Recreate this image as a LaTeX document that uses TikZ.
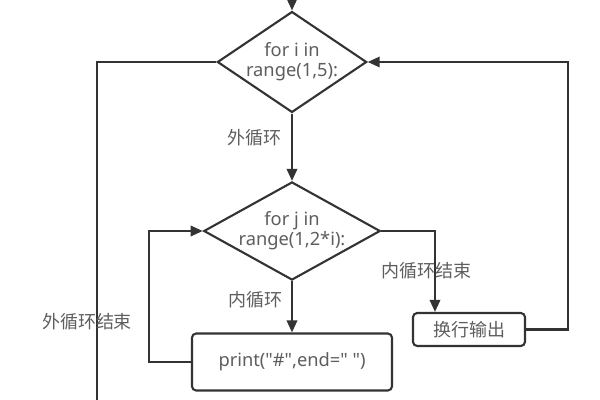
\documentclass[tikz,border=0pt]{standalone}
\usepackage{fontspec}
\setmainfont{Noto Sans}
\newfontfamily\cjk{Noto Sans CJK SC}
\usetikzlibrary{shapes.geometric,arrows.meta}
\definecolor{linegray}{HTML}{333333}
\definecolor{textgray}{HTML}{5E5E5E}
\newcommand{\dq}{\textquotedbl}
\begin{document}
\begin{tikzpicture}[
		x=0.025cm, y=-0.025cm,
		font=\fontsize{13}{14.5}\selectfont,
		text=textgray,
		cond/.style={
			draw=linegray,
			diamond,
			inner sep=0pt,
			align=center,
			line width=1.5pt,
			fill=white
		},
		box/.style={
			draw=linegray,
			rounded corners=3pt,
			align=center,
			line width=1.5pt,
			fill=white
		},
		line/.style={draw=linegray, line width=1.5pt},
		arr/.style={line, -{Triangle[length=0.3cm,width=0.26cm]}},
		lbl/.style={text=textgray, font=\cjk\fontsize{12.8}{14}\selectfont}
		]
		
		\useasboundingbox (0,0) rectangle (600,400);
		
		% Outer loop
		\node[cond, aspect=1.48, minimum width=3.7cm, minimum height=2.5cm] (outer) at (292,62)
		{for i in\\range(1,5):};
		
		% Inner loop
		\node[cond, aspect=1.8, minimum width=4.35cm, minimum height=2.4cm] (inner) at (292,231)
		{for j in\\range(1,2*i):};
		
		% Print box
		\node[box, minimum width=5cm, minimum height=1.425cm] (prt) at (292,362)
		{print(\dq\#\dq,end=\dq\ \dq)};
		
		% Newline box
		\node[box, font=\cjk\fontsize{12.8}{14}\selectfont, minimum width=2.8cm, minimum height=0.825cm] (newline) at (469,329.5)
		{换行输出};
		
		\coordinate (start) at (292,0);
		\coordinate (exit) at (97,400);
		
		% Main trunk
		\draw[arr] (start) -- (outer.north);
		\draw[arr] (outer.south) -- (inner.north);
		\draw[arr] (inner.south) -- (prt.north);
		
		% Inner loop back
		\draw[arr] (prt.west) -- ++(-42,0) |- (inner.west);
		
		% Inner loop end
		\draw[arr] (inner.east) -| ([xshift=-0.85cm]newline.north);
		
		% Outer loop back
		\draw[arr] (newline.east) -- ++(42,0) |- (outer.east);
		
		% Outer loop end
		\draw[line] (outer.west) -| (exit);
		
		% Labels
		\node[lbl] at (254,138) {外循环};
		\node[lbl] at (255,300) {内循环};
		\node[lbl] at (426,271) {内循环结束};
		\node[lbl] at (87,322) {外循环结束};
		
	\end{tikzpicture}
\end{document}
